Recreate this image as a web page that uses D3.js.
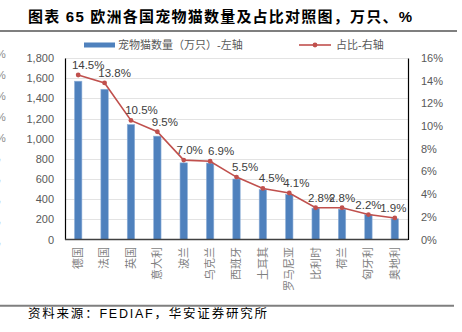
<!DOCTYPE html>
<html><head><meta charset="utf-8">
<script src="https://cdn.jsdelivr.net/npm/d3@7"></script>
<style>
html,body{margin:0;padding:0;background:#fff;}
svg{display:block;font-family:"Liberation Sans","Noto Sans CJK SC",sans-serif;}
</style></head>
<body>
<svg id="chart" width="462" height="332"></svg>
<script>
const categories = ["德国","法国","英国","意大利","波兰","乌克兰","西班牙","土耳其","罗马尼亚","比利时","荷兰","匈牙利","奥地利"];
const catCounts = [1570,1490,1140,1025,760,758,600,494,446,311,301,246,206];
const catShares = [14.5,13.8,10.5,9.5,7.0,6.9,5.5,4.5,4.1,2.8,2.8,2.2,1.9];
const leftTicks = [0,200,400,600,800,1000,1200,1400,1600,1800];
const rightTicks = [0,2,4,6,8,10,12,14,16];
const seriesNames = ["宠物猫数量（万只）-左轴","占比-右轴"];
const titleText = "图表 65 欧洲各国宠物猫数量及占比对照图，万只、%";
const sourceText = "资料来源：FEDIAF，华安证券研究所";

const svg = d3.select("#chart");
const L = 65, R = 408, T = 58, B = 239.5;
const blue = "#4F81BD", red = "#C0504D", grey = "#595959";

const x = d3.scaleBand().domain(categories).range([L, R]).paddingInner(0.72).paddingOuter(0.36);
const y = d3.scaleLinear().domain([0, 1800]).range([B, T]);
const y2 = d3.scaleLinear().domain([0, 16]).range([B, T]);

// clipped fragments at left edge
const frag = svg.append("g").attr("fill", "#8c8c8c").attr("font-size", 11);
[54,75,96,117,138].forEach(v => frag.append("text").attr("x", -4).attr("y", v).attr("dy", "0.35em").text("%"));
[159,180,201,222,243].forEach(v => frag.append("text").attr("x", -2).attr("y", v).attr("dy", "0.1em").text(","));

// title
svg.append("text").attr("x", 28).attr("y", 21.5).attr("font-size", 15).attr("font-weight", "bold")
  .attr("fill", "#000").attr("textLength", 384).attr("lengthAdjust", "spacing").text(titleText);
svg.append("line").attr("x1", 0).attr("x2", 457).attr("y1", 31).attr("y2", 31).attr("stroke", "#7f7f7f").attr("stroke-width", 2);
svg.append("line").attr("x1", 0).attr("x2", 454).attr("y1", 305.8).attr("y2", 305.8).attr("stroke", "#7f7f7f").attr("stroke-width", 2);
svg.append("text").attr("x", 28).attr("y", 318).attr("font-size", 12.5).attr("fill", "#000")
  .attr("textLength", 239).attr("lengthAdjust", "spacing").text(sourceText);

// gridlines
svg.append("g").selectAll("line").data(leftTicks.filter(d => d > 0)).join("line")
  .attr("x1", L).attr("x2", R).attr("y1", d => Math.round(y(d)) + 0.5).attr("y2", d => Math.round(y(d)) + 0.5)
  .attr("stroke", "#e3e3e3").attr("stroke-width", 1);

// left axis
const gl = svg.append("g").attr("transform", `translate(${L},0)`)
  .call(d3.axisLeft(y).tickValues(leftTicks).tickFormat(d3.format(",")).tickSize(0).tickPadding(11));
gl.select(".domain").attr("stroke", "#000").attr("stroke-width", 1.2);
gl.selectAll("text").attr("font-size", 11).attr("fill", grey).attr("font-family", "Liberation Sans");

// right axis
const gr = svg.append("g").attr("transform", `translate(${R},0)`)
  .call(d3.axisRight(y2).tickValues(rightTicks).tickFormat(d => d + "%").tickSize(0).tickPadding(13));
gr.select(".domain").attr("stroke", "#000").attr("stroke-width", 1.2);
gr.selectAll("text").attr("font-size", 11).attr("fill", grey).attr("font-family", "Liberation Sans");

// bars
svg.append("g").selectAll("rect").data(categories).join("rect")
  .attr("x", d => x(d)).attr("width", x.bandwidth())
  .attr("y", (d, i) => y(catCounts[i])).attr("height", (d, i) => B - y(catCounts[i]))
  .attr("fill", blue).attr("stroke", "#8fb0d8").attr("stroke-width", 0.6);

// bottom axis line
svg.append("line").attr("x1", L).attr("x2", R).attr("y1", B).attr("y2", B).attr("stroke", "#404040").attr("stroke-width", 1.3);

// category labels (rotated)
svg.append("g").selectAll("text").data(categories).join("text")
  .attr("transform", d => `translate(${x(d) + x.bandwidth() / 2},247) rotate(-90)`)
  .attr("text-anchor", "end").attr("dy", "0.35em").attr("font-size", 11).attr("fill", "#7f7f7f")
  .text(d => d);

// line
const cx = d => x(d) + x.bandwidth() / 2;
svg.append("path").datum(categories)
  .attr("d", d3.line().x(d => cx(d)).y((d, i) => y2(catShares[i])))
  .attr("fill", "none").attr("stroke", red).attr("stroke-width", 1.6);
svg.append("g").selectAll("circle").data(categories).join("circle")
  .attr("cx", d => cx(d)).attr("cy", (d, i) => y2(catShares[i])).attr("r", 2.4).attr("fill", red);

// data labels
const labelDx = [10,10,10.5,7.5,6,11,8.5,9,7,5.5,0,0,-1.5];
svg.append("g").selectAll("text").data(categories).join("text")
  .attr("x", (d, i) => cx(d) + labelDx[i]).attr("y", (d, i) => y2(catShares[i]) - 6)
  .attr("text-anchor", "middle").attr("font-size", 11.5).attr("fill", "#404040")
  .text((d, i) => catShares[i].toFixed(1) + "%");

// legend
const lg = svg.append("g");
lg.append("rect").attr("x", 84).attr("y", 42.5).attr("width", 31).attr("height", 5).attr("fill", blue);
lg.append("text").attr("x", 118).attr("y", 45).attr("dy", "0.35em").attr("font-size", 11).attr("fill", grey).text(seriesNames[0]);
lg.append("line").attr("x1", 299).attr("x2", 331).attr("y1", 45).attr("y2", 45).attr("stroke", red).attr("stroke-width", 1.6);
lg.append("circle").attr("cx", 315).attr("cy", 45).attr("r", 2.4).attr("fill", red);
lg.append("text").attr("x", 336).attr("y", 45).attr("dy", "0.35em").attr("font-size", 11).attr("fill", grey).text(seriesNames[1]);
</script>
</body></html>
